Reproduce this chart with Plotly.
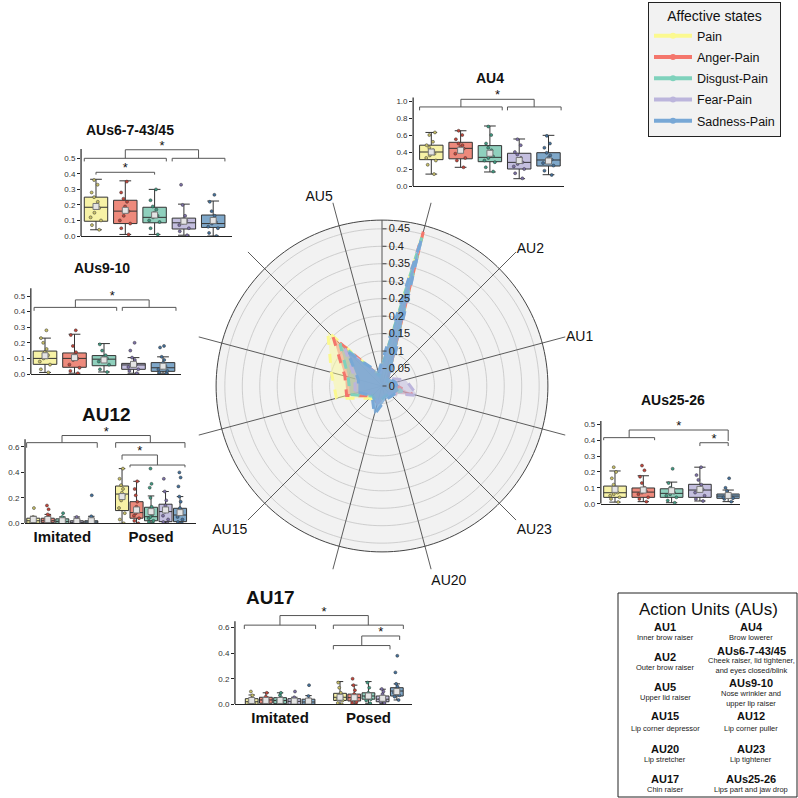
import plotly.graph_objects as go

W = H = 798
FONT = "Liberation Sans, Arial, sans-serif"

# ---------------- data ----------------
states = ["Pain", "Anger-Pain", "Disgust-Pain", "Fear-Pain", "Sadness-Pain"]
line_colors = ["#fbf98f", "#f4766c", "#7fd2bc", "#bcb5dc", "#78a8d6"]
fill_rgba = ["rgba(251,249,143,0.45)", "rgba(244,118,108,0.40)", "rgba(127,210,188,0.45)",
             "rgba(188,181,220,0.50)", "rgba(120,168,214,0.80)"]
box_colors = ["#f7f2a6", "#ee8a7c", "#8fd0bd", "#c4bfdf", "#7fa8ca"]
point_colors = ["#c9c068", "#c4453a", "#3f9b82", "#7d70a8", "#44719c"]

aus = ["AU4", "AU2", "AU1", "AUs25-26", "AU23", "AU20", "AU17", "AU15",
       "AU12", "AUs9-10", "AUs6-7-43/45", "AU5"]
au_tick_text = ["", "AU2", "AU1", "", "AU23", "AU20", "", "AU15", "", "", "", "AU5"]

radar_pain = [0.450, 0.02, 0.03, 0.05, 0.03, 0.03, 0.05, 0.05, 0.135, 0.150, 0.220, 0.03]
radar_anger = [0.457, 0.02, 0.03, 0.09, 0.03, 0.03, 0.05, 0.04, 0.105, 0.110, 0.198, 0.03]
radar_disgust = [0.440, 0.02, 0.03, 0.06, 0.03, 0.03, 0.05, 0.04, 0.095, 0.100, 0.170, 0.03]
radar_fear = [0.430, 0.03, 0.07, 0.105, 0.03, 0.03, 0.05, 0.03, 0.080, 0.080, 0.150, 0.03]
radar_sadness = [0.430, 0.03, 0.04, 0.05, 0.04, 0.04, 0.085, 0.04, 0.070, 0.070, 0.140, 0.04]
radar_series = [radar_pain, radar_anger, radar_disgust, radar_fear, radar_sadness]

radial_ticks = [0, 0.05, 0.1, 0.15, 0.2, 0.25, 0.3, 0.35, 0.4, 0.45]
radial_tick_text = ["0", "0.05", "0.1", "0.15", "0.2", "0.25", "0.3", "0.35", "0.4", "0.45"]
disc_r = 0.475      # outer circle of the radar
spoke_r = 0.544     # length of the spokes

# box statistics: q1, median, q3, lower whisker, upper whisker, mean (order = states)
au4_stats = dict(q1=[0.31, 0.32, 0.286, 0.20, 0.235], med=[0.40, 0.443, 0.337, 0.278, 0.306],
                 q3=[0.48, 0.514, 0.475, 0.385, 0.392], lo=[0.14, 0.22, 0.165, 0.086, 0.133],
                 hi=[0.63, 0.65, 0.706, 0.553, 0.596], mean=[0.40, 0.42, 0.385, 0.30, 0.294])
au4_points = [[0.14, 0.25, 0.30, 0.33, 0.36, 0.38, 0.40, 0.42, 0.45, 0.48, 0.52, 0.60, 0.63],
              [0.22, 0.30, 0.33, 0.38, 0.42, 0.44, 0.46, 0.48, 0.50, 0.55, 0.60, 0.65],
              [0.17, 0.22, 0.28, 0.30, 0.33, 0.35, 0.38, 0.42, 0.45, 0.50, 0.60, 0.70],
              [0.09, 0.15, 0.20, 0.23, 0.26, 0.28, 0.30, 0.33, 0.37, 0.40, 0.48, 0.55],
              [0.13, 0.18, 0.24, 0.27, 0.29, 0.31, 0.33, 0.36, 0.39, 0.45, 0.50, 0.59]]

au6_stats = dict(q1=[0.095, 0.08, 0.085, 0.045, 0.055], med=[0.185, 0.16, 0.12, 0.085, 0.08],
                 q3=[0.25, 0.23, 0.185, 0.115, 0.135], lo=[0.04, 0.01, 0.01, 0.005, 0.0],
                 hi=[0.365, 0.355, 0.30, 0.205, 0.225], mean=[0.19, 0.165, 0.135, 0.095, 0.10])
au6_points = [[0.04, 0.07, 0.10, 0.12, 0.15, 0.18, 0.20, 0.22, 0.25, 0.28, 0.33, 0.36],
              [0.01, 0.05, 0.08, 0.10, 0.13, 0.16, 0.19, 0.22, 0.24, 0.28, 0.35],
              [0.01, 0.05, 0.09, 0.10, 0.12, 0.13, 0.15, 0.17, 0.19, 0.23, 0.30],
              [0.005, 0.03, 0.05, 0.07, 0.085, 0.10, 0.11, 0.13, 0.20, 0.33],
              [0.0, 0.02, 0.05, 0.06, 0.08, 0.09, 0.10, 0.13, 0.16, 0.22, 0.265]]

au9_stats = dict(q1=[0.062, 0.043, 0.053, 0.03, 0.017], med=[0.10, 0.10, 0.095, 0.058, 0.04],
                 q3=[0.147, 0.135, 0.118, 0.068, 0.073], lo=[0.01, 0.005, 0.013, 0.005, 0.005],
                 hi=[0.23, 0.255, 0.195, 0.105, 0.11], mean=[0.117, 0.105, 0.09, 0.062, 0.05])
au9_points = [[0.01, 0.03, 0.06, 0.08, 0.10, 0.12, 0.14, 0.16, 0.20, 0.23, 0.28],
              [0.005, 0.02, 0.04, 0.06, 0.09, 0.10, 0.12, 0.14, 0.18, 0.25, 0.28],
              [0.013, 0.03, 0.06, 0.08, 0.09, 0.10, 0.11, 0.12, 0.15, 0.19],
              [0.005, 0.02, 0.03, 0.045, 0.055, 0.06, 0.07, 0.09, 0.105, 0.15, 0.20],
              [0.005, 0.01, 0.02, 0.03, 0.04, 0.05, 0.07, 0.09, 0.11, 0.17, 0.18]]

au12_imit_stats = dict(q1=[0.0, 0.005, 0.0, 0.0, 0.0], med=[0.02, 0.02, 0.015, 0.005, 0.01],
                       q3=[0.04, 0.04, 0.035, 0.02, 0.02], lo=[0.0, 0.0, 0.0, 0.0, 0.0],
                       hi=[0.055, 0.07, 0.05, 0.05, 0.055], mean=[0.03, 0.03, 0.02, 0.015, 0.02])
au12_posed_stats = dict(q1=[0.10, 0.04, 0.02, 0.013, 0.013], med=[0.23, 0.084, 0.052, 0.092, 0.065],
                        q3=[0.293, 0.17, 0.126, 0.15, 0.118], lo=[0.0, 0.0, 0.0, 0.0, 0.0],
                        hi=[0.43, 0.33, 0.215, 0.25, 0.21], mean=[0.21, 0.105, 0.092, 0.105, 0.084])
au12_imit_points = [[0.0, 0.005, 0.01, 0.02, 0.03, 0.04, 0.05, 0.12],
                    [0.0, 0.01, 0.02, 0.03, 0.04, 0.06, 0.07, 0.11, 0.14],
                    [0.0, 0.005, 0.01, 0.02, 0.03, 0.04, 0.05, 0.08],
                    [0.0, 0.0, 0.005, 0.01, 0.02, 0.03, 0.05],
                    [0.0, 0.0, 0.01, 0.015, 0.02, 0.04, 0.055, 0.22]]
au12_posed_points = [[0.0, 0.03, 0.08, 0.12, 0.18, 0.22, 0.24, 0.27, 0.30, 0.35, 0.43],
                     [0.0, 0.02, 0.04, 0.06, 0.08, 0.10, 0.13, 0.17, 0.22, 0.27, 0.33],
                     [0.0, 0.01, 0.02, 0.04, 0.05, 0.07, 0.10, 0.13, 0.20, 0.28, 0.31, 0.43],
                     [0.0, 0.01, 0.03, 0.06, 0.09, 0.11, 0.14, 0.18, 0.25, 0.35],
                     [0.0, 0.01, 0.03, 0.05, 0.07, 0.09, 0.12, 0.17, 0.21, 0.29, 0.36, 0.40]]

au25_stats = dict(q1=[0.04, 0.04, 0.04, 0.04, 0.034], med=[0.069, 0.073, 0.065, 0.086, 0.048],
                  q3=[0.111, 0.099, 0.094, 0.122, 0.061], lo=[0.01, 0.013, 0.006, 0.017, 0.013],
                  hi=[0.206, 0.176, 0.136, 0.23, 0.086], mean=[0.09, 0.086, 0.082, 0.09, 0.052])
au25_points = [[0.01, 0.03, 0.04, 0.05, 0.06, 0.07, 0.08, 0.10, 0.12, 0.16, 0.20, 0.23],
               [0.013, 0.03, 0.04, 0.06, 0.07, 0.08, 0.09, 0.10, 0.13, 0.17, 0.21, 0.24],
               [0.006, 0.02, 0.04, 0.05, 0.06, 0.07, 0.08, 0.09, 0.10, 0.13, 0.22],
               [0.017, 0.03, 0.05, 0.07, 0.08, 0.09, 0.10, 0.12, 0.15, 0.18, 0.23],
               [0.013, 0.03, 0.035, 0.04, 0.045, 0.05, 0.055, 0.06, 0.08, 0.10, 0.16]]

au17_imit_stats = dict(q1=[0.0, 0.008, 0.005, 0.0, 0.0], med=[0.02, 0.034, 0.03, 0.023, 0.018],
                       q3=[0.044, 0.055, 0.052, 0.044, 0.04], lo=[0.0, 0.0, 0.0, 0.0, 0.0],
                       hi=[0.073, 0.09, 0.09, 0.055, 0.068], mean=[0.03, 0.03, 0.03, 0.025, 0.025])
au17_posed_stats = dict(q1=[0.03, 0.026, 0.04, 0.02, 0.065], med=[0.055, 0.052, 0.065, 0.04, 0.104],
                        q3=[0.086, 0.08, 0.09, 0.065, 0.13], lo=[0.0, 0.0, 0.008, 0.005, 0.034],
                        hi=[0.178, 0.15, 0.178, 0.118, 0.16], mean=[0.055, 0.052, 0.065, 0.047, 0.10])
au17_imit_points = [[0.0, 0.005, 0.01, 0.02, 0.03, 0.04, 0.05, 0.07, 0.10],
                    [0.008, 0.015, 0.03, 0.035, 0.04, 0.05, 0.06, 0.09],
                    [0.005, 0.01, 0.02, 0.03, 0.04, 0.05, 0.07, 0.09],
                    [0.0, 0.005, 0.01, 0.02, 0.03, 0.04, 0.055, 0.10],
                    [0.0, 0.005, 0.01, 0.02, 0.03, 0.04, 0.065, 0.15]]
au17_posed_points = [[0.0, 0.01, 0.03, 0.04, 0.05, 0.06, 0.07, 0.09, 0.13, 0.17],
                     [0.0, 0.01, 0.02, 0.03, 0.05, 0.06, 0.08, 0.11, 0.15, 0.20],
                     [0.008, 0.03, 0.04, 0.06, 0.07, 0.08, 0.09, 0.13, 0.17],
                     [0.01, 0.02, 0.03, 0.04, 0.05, 0.06, 0.08, 0.10, 0.12],
                     [0.034, 0.06, 0.07, 0.09, 0.10, 0.11, 0.12, 0.14, 0.16, 0.25, 0.38]]

group_labels = ["Imitated", "Posed"]

# action-unit glossary
au_left = [("AU1", "Inner brow raiser"), ("AU2", "Outer brow raiser"), ("AU5", "Upper lid raiser"),
           ("AU15", "Lip corner depressor"), ("AU20", "Lip stretcher"), ("AU17", "Chin raiser")]
au_right = [("AU4", "Brow lowerer"),
            ("AUs6-7-43/45", "Cheek raiser, lid tightener,<br>and eyes closed/blink"),
            ("AUs9-10", "Nose wrinkler and<br>upper lip raiser"),
            ("AU12", "Lip corner puller"), ("AU23", "Lip tightener"),
            ("AUs25-26", "Lips part and jaw drop")]

# ---------------- helpers ----------------
def px(x):
    return x / W


def py(y):
    return 1 - y / H


def label(text, x, y, size, color="#111"):
    return dict(text=text, x=px(x), y=py(y), xref="paper", yref="paper", showarrow=False,
                xanchor="center", yanchor="middle",
                font=dict(size=size, color=color, family=FONT))


fig = go.Figure()

# ---------------- radar ----------------
au_angles = [15 + 30 * i for i in range(len(aus))]
circle_theta = list(range(0, 361, 2))

fig.add_trace(go.Scatterpolar(r=[disc_r] * len(circle_theta), theta=circle_theta, mode="lines",
                              fill="toself", fillcolor="#f2f2f2", line=dict(color="#444", width=1),
                              showlegend=False, hoverinfo="skip"))
for rt in radial_ticks[1:]:
    fig.add_trace(go.Scatterpolar(r=[rt] * len(circle_theta), theta=circle_theta, mode="lines",
                                  line=dict(color="#c4c4c4", width=0.8), showlegend=False,
                                  hoverinfo="skip"))
for ang in au_angles:
    fig.add_trace(go.Scatterpolar(r=[0, spoke_r], theta=[ang, ang], mode="lines",
                                  line=dict(color="#4a4a4a", width=0.9), showlegend=False,
                                  hoverinfo="skip"))
fig.add_trace(go.Scatterpolar(r=[0, disc_r], theta=[0, 0], mode="lines",
                              line=dict(color="#555", width=1), showlegend=False, hoverinfo="skip"))

for name, vals, lc, fc in zip(states, radar_series, line_colors, fill_rgba):
    fig.add_trace(go.Scatterpolar(r=vals + [vals[0]], theta=au_angles + [au_angles[0]],
                                  mode="lines", fill="toself", fillcolor=fc,
                                  line=dict(color=lc, width=3, dash="dash"),
                                  showlegend=False, name=name))
for name, lc in zip(states, line_colors):
    fig.add_trace(go.Scatterpolar(r=[None], theta=[None], mode="lines+markers", name=name,
                                  line=dict(color=lc, width=4), marker=dict(color=lc, size=6),
                                  legendgroup=name, showlegend=True))

polar_c = (382, 386)
polar_rad = 190
fig.update_layout(polar=dict(
    domain=dict(x=[px(polar_c[0] - polar_rad), px(polar_c[0] + polar_rad)],
                y=[py(polar_c[1] + polar_rad), py(polar_c[1] - polar_rad)]),
    bgcolor="rgba(0,0,0,0)",
    angularaxis=dict(rotation=90, direction="clockwise", thetaunit="degrees",
                     tickmode="array", tickvals=au_angles, ticktext=au_tick_text,
                     showgrid=False, showline=False, ticks="",
                     tickfont=dict(size=14, color="#111", family=FONT)),
    radialaxis=dict(range=[0, spoke_r], angle=90, tickangle=90, tickmode="array",
                    tickvals=radial_ticks, ticktext=radial_tick_text, showgrid=False,
                    showline=False, ticks="outside", ticklen=4, tickcolor="#444",
                    side="clockwise", tickfont=dict(size=11, color="#222", family=FONT)),
))

annotations = []
shapes = []

# ---------------- box panels ----------------
panels = [
    dict(title="AU4", tx=490, ty=78, tsize=14, c0=431.3, s=29.3, xr=[-0.62, 4.53], y0=186, sy=85,
         top=1.1, ticks=[0, 0.2, 0.4, 0.6, 0.8, 1.0], linetop=1.04),
    dict(title="AUs6-7-43/45", tx=130, ty=130, tsize=14, c0=96, s=29.3, xr=[-0.51, 4.64], y0=236,
         sy=155.4, top=0.6, ticks=[0, 0.1, 0.2, 0.3, 0.4, 0.5], linetop=0.56),
    dict(title="AUs9-10", tx=102, ty=268, tsize=14, c0=45, s=29.5, xr=[-0.48, 4.6], y0=374,
         sy=156, top=0.56, ticks=[0, 0.1, 0.2, 0.3, 0.4, 0.5], linetop=0.55),
    dict(title="AU12", tx=106, ty=414, tsize=19, c0=33.3, s=14.5, xr=[-0.57, 11.2], y0=523.3,
         sy=127.2, top=0.76, ticks=[0, 0.2, 0.4, 0.6], linetop=0.66),
    dict(title="AUs25-26", tx=673, ty=400, tsize=14, c0=615, s=28.3, xr=[-0.5, 4.4], y0=503.7,
         sy=158.8, top=0.52, ticks=[0, 0.1, 0.2, 0.3, 0.4, 0.5], linetop=0.52),
    dict(title="AU17", tx=270, ty=597, tsize=19, c0=251.7, s=14.2, xr=[-1.18, 11.3], y0=704.3,
         sy=127.7, top=0.76, ticks=[0, 0.2, 0.4, 0.6], linetop=0.65),
]

single_pos = [0, 1, 2, 3, 4]
posed_pos_12 = [6.12, 7.12, 8.12, 9.12, 10.12]
posed_pos_17 = [6.22, 7.22, 8.22, 9.22, 10.22]

panel_boxes = [
    [(single_pos, au4_stats, au4_points, 0.8)],
    [(single_pos, au6_stats, au6_points, 0.8)],
    [(single_pos, au9_stats, au9_points, 0.8)],
    [(single_pos, au12_imit_stats, au12_imit_points, 0.9),
     (posed_pos_12, au12_posed_stats, au12_posed_points, 0.9)],
    [(single_pos, au25_stats, au25_points, 0.8)],
    [(single_pos, au17_imit_stats, au17_imit_points, 0.9),
     (posed_pos_17, au17_posed_stats, au17_posed_points, 0.9)],
]

panel_brackets = [
    [("g", -0.4, 2.42, 0.93, 0.04), ("g", 2.6, 4.43, 0.93, 0.04),
     ("c", 1.01, 0.93, 3.51, 0.93, 1.02, 1.06)],
    [("g", -0.4, 2.4, 0.5, 0.02), ("g", 2.6, 4.4, 0.5, 0.02),
     ("c", 1.0, 0.5, 3.5, 0.5, 0.555, 0.575), ("c", 0, 0.395, 2, 0.395, 0.41, 0.43)],
    [("g", -0.37, 2.43, 0.427, 0.022), ("g", 2.62, 4.44, 0.427, 0.022),
     ("c", 1.03, 0.427, 3.53, 0.427, 0.475, 0.495)],
    [("g", -0.46, 4.41, 0.634, 0.04), ("g", 5.68, 10.46, 0.634, 0.04),
     ("c", 1.98, 0.634, 8.07, 0.634, 0.69, 0.71), ("g", 6.67, 10.46, 0.458, 0.018),
     ("c", 6.12, 0.50, 8.56, 0.458, 0.537, 0.56)],
    [("g", -0.4, 1.4, 0.416, 0.016), ("c", 0.5, 0.416, 4.0, 0.395, 0.464, 0.484),
     ("c", 3.0, 0.363, 4.0, 0.363, 0.384, 0.404)],
    [("g", -0.52, 4.5, 0.62, 0.03), ("g", 5.75, 10.68, 0.62, 0.03),
     ("c", 1.99, 0.62, 8.21, 0.62, 0.695, 0.72), ("g", 5.75, 9.74, 0.46, 0.03),
     ("c", 7.75, 0.46, 10.42, 0.504, 0.535, 0.558)],
]

panel_group_ticks = [None, None, None, ([2.0, 8.12], group_labels), None, ([2.0, 8.22], group_labels)]

for k, (p, boxes, brs, gt) in enumerate(zip(panels, panel_boxes, panel_brackets, panel_group_ticks),
                                         start=2):
    xa, ya = f"x{k}", f"y{k}"
    xdom = [px(p["c0"] + p["xr"][0] * p["s"]), px(p["c0"] + p["xr"][1] * p["s"])]
    ydom = [py(p["y0"]), py(p["y0"] - p["top"] * p["sy"])]
    xaxis = dict(domain=xdom, range=p["xr"], anchor=ya, showgrid=False, zeroline=False,
                 showline=True, linecolor="#222", linewidth=1.2, ticks="",
                 showticklabels=gt is not None)
    if gt is not None:
        xaxis.update(tickmode="array", tickvals=gt[0],
                     ticktext=[f"<b>{t}</b>" for t in gt[1]],
                     tickfont=dict(size=15, color="#111", family=FONT))
    yaxis = dict(domain=ydom, range=[0, p["top"]], anchor=xa, showgrid=False, zeroline=False,
                 showline=False, ticks="outside", ticklen=3, tickcolor="#222", tickwidth=1,
                 tickmode="array", tickvals=p["ticks"], tickformat=".1f",
                 tickfont=dict(size=8, color="#333", family=FONT))
    fig.update_layout(**{f"xaxis{k}": xaxis, f"yaxis{k}": yaxis})
    shapes.append(dict(type="line", xref=f"{xa} domain", yref=ya, x0=0, x1=0, y0=0,
                       y1=p["linetop"], line=dict(color="#222", width=1.2)))

    for positions, st, pts, bw in boxes:
        for i, pos in enumerate(positions):
            fig.add_trace(go.Box(x=[pos], q1=[st["q1"][i]], median=[st["med"][i]], q3=[st["q3"][i]],
                                 lowerfence=[st["lo"][i]], upperfence=[st["hi"][i]],
                                 fillcolor=box_colors[i], line=dict(color="#333", width=1),
                                 width=bw, whiskerwidth=0.5, boxpoints=False, xaxis=xa, yaxis=ya,
                                 showlegend=False, hoverinfo="skip"))
            fig.add_trace(go.Box(x=[pos] * len(pts[i]), y=pts[i], boxpoints="all", jitter=0.55,
                                 pointpos=0, width=bw, fillcolor="rgba(0,0,0,0)",
                                 line=dict(color="rgba(0,0,0,0)", width=0),
                                 marker=dict(size=3, color=point_colors[i],
                                             line=dict(color="#333", width=0.5)),
                                 xaxis=xa, yaxis=ya, showlegend=False, hoverinfo="skip"))
        fig.add_trace(go.Scatter(x=positions, y=st["mean"], mode="markers", xaxis=xa, yaxis=ya,
                                 marker=dict(symbol="square", size=6, color="#e4e4e4",
                                             line=dict(color="#777", width=1)),
                                 showlegend=False, hoverinfo="skip"))

    bx, by, sx, sy_ = [], [], [], []
    for b in brs:
        if b[0] == "g":
            _, x0, x1, y, d = b
            bx += [x0, x0, x1, x1, None]
            by += [y - d, y, y, y - d, None]
        else:
            _, x0, y0_, x1, y1_, yt, ys = b
            bx += [x0, x0, x1, x1, None]
            by += [y0_, yt, yt, y1_, None]
            sx.append((x0 + x1) / 2)
            sy_.append(ys)
    fig.add_trace(go.Scatter(x=bx, y=by, mode="lines", line=dict(color="#555", width=1),
                             xaxis=xa, yaxis=ya, showlegend=False, hoverinfo="skip"))
    fig.add_trace(go.Scatter(x=sx, y=sy_, mode="text", text=["*"] * len(sx), cliponaxis=False,
                             textfont=dict(size=13, color="#111", family=FONT),
                             xaxis=xa, yaxis=ya, showlegend=False, hoverinfo="skip"))

    annotations.append(label(f"<b>{p['title']}</b>", p["tx"], p["ty"], p["tsize"]))

# ---------------- Action Units glossary ----------------
shapes.append(dict(type="rect", xref="paper", yref="paper", x0=px(618), x1=px(797),
                   y0=py(797), y1=py(593), line=dict(color="#222", width=1), fillcolor="white",
                   layer="below"))
annotations.append(label("Action Units (AUs)", 708, 609, 17))
left_rows = [(627, 637), (657, 667), (687, 697), (716, 728), (749, 759), (779, 789)]
right_rows = [(627, 637), (651, 665), (683, 698), (716, 728), (749, 759), (779, 789)]
for (name, desc), (yn, yd) in zip(au_left, left_rows):
    annotations.append(label(f"<b>{name}</b>", 665, yn, 11))
    annotations.append(label(desc, 665, yd, 7.5, "#222"))
for (name, desc), (yn, yd) in zip(au_right, right_rows):
    annotations.append(label(f"<b>{name}</b>", 751, yn, 11))
    annotations.append(label(desc, 751, yd, 7.5, "#222"))

fig.update_layout(
    width=W, height=H, margin=dict(l=0, r=0, t=0, b=0, autoexpand=False),
    paper_bgcolor="white", plot_bgcolor="rgba(0,0,0,0)",
    font=dict(family=FONT, color="#111"),
    boxmode="overlay",
    shapes=shapes, annotations=annotations,
    legend=dict(x=px(648), y=py(2), xanchor="left", yanchor="top", bgcolor="#f2f2f2",
                bordercolor="#222", borderwidth=1, font=dict(size=12.5, family=FONT, color="#111"),
                title=dict(text="Affective states", side="top center",
                           font=dict(size=14, family=FONT, color="#111")),
                itemwidth=38, tracegroupgap=2),
)

fig.write_html("out.html", config={"displayModeBar": False},
               post_script="document.body.style.margin='0';document.body.style.overflow='hidden';")
